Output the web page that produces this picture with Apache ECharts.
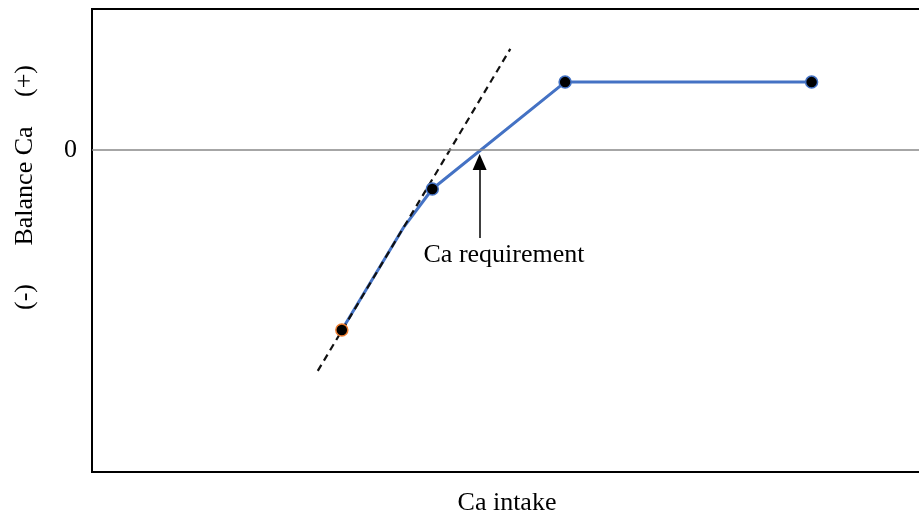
<!DOCTYPE html>
<html>
<head>
<meta charset="utf-8">
<script src="https://cdn.jsdelivr.net/npm/echarts@6/dist/echarts.min.js"></script>
<style>html,body{margin:0;padding:0;background:#fff;}#c{width:919px;height:515px;}</style>
</head>
<body>
<div id="c"></div>
<script>
// Ca intake (x) vs Ca balance (y), arbitrary units
var balanceX = [30.1, 37.5, 41.0, 57.0, 86.7];
var balanceY = [-55.9, -24.2, -12.1, 21.1, 21.1];
var tangentX = [27.2, 50.4];
var tangentY = [-68.6, 31.4];
var arrowX = 46.7;
var arrowY = [-27.3, -3.7];
var xLabel = 'Ca intake';
var yLabels = ['(-)', 'Balance Ca', '(+)'];
var annotation = 'Ca requirement';

var font = 'Liberation Serif, Times New Roman, serif';
var chart = echarts.init(document.getElementById('c'));
var markerData = [];
balanceX.forEach(function (x, i) {
  if (i === 1) return;
  var d = { value: [x, balanceY[i]] };
  if (i === 0) d.itemStyle = { borderColor: '#ED7D31' };
  markerData.push(d);
});
chart.setOption({
  animation: false,
  grid: { left: 92, top: 9, width: 830, height: 463, outerBoundsMode: 'none', containLabel: false, show: true, borderColor: '#000', borderWidth: 2, backgroundColor: 'transparent' },
  xAxis: {
    type: 'value', min: 0, max: 100,
    axisLine: { show: false }, axisTick: { show: false }, axisLabel: { show: false }, splitLine: { show: false },
    name: xLabel, nameLocation: 'middle', nameGap: 18,
    nameTextStyle: { fontFamily: font, fontSize: 26, color: '#000' }
  },
  yAxis: {
    type: 'value', min: -100, max: 43.8, interval: 50,
    axisLine: { show: false }, axisTick: { show: false }, splitLine: { show: false },
    axisLabel: {
      margin: 15, fontFamily: font, fontSize: 26, color: '#000',
      formatter: function (v) { return v === 0 ? '0' : ''; }
    }
  },
  series: [
    {
      type: 'line', data: balanceX.map(function (x, i) { return [x, balanceY[i]]; }),
      symbol: 'none',
      lineStyle: { color: '#4472C4', width: 3 },
      z: 2,
      markLine: {
        silent: true, symbol: ['none', 'triangle'], symbolSize: [14, 16], label: { show: false },
        lineStyle: { color: '#000', width: 1.5, type: 'solid' },
        itemStyle: { color: '#000' },
        data: [[{ coord: [arrowX, arrowY[0]] }, { coord: [arrowX, arrowY[1]] }]]
      }
    },
    {
      type: 'line', data: tangentX.map(function (x, i) { return [x, tangentY[i]]; }),
      symbol: 'none', lineStyle: { color: '#111', width: 2.2, type: [7, 5] }, z: 3,
      markLine: {
        silent: true, symbol: ['none', 'none'], label: { show: false },
        lineStyle: { color: '#888', width: 1.5, type: 'solid' },
        data: [{ yAxis: 0 }]
      }
    },
    {
      type: 'scatter', data: markerData, symbol: 'circle', symbolSize: 12, z: 4,
      itemStyle: { color: '#000', borderColor: '#4472C4', borderWidth: 1.5, opacity: 1 }
    }
  ],
  graphic: [
    { type: 'text', x: 504, y: 255, style: { text: annotation, font: '26px ' + font, fill: '#000', textAlign: 'center', textVerticalAlign: 'middle' } },
    { type: 'text', x: 25, y: 297, rotation: Math.PI / 2, style: { text: yLabels[0], font: '26px ' + font, fill: '#000', textAlign: 'center', textVerticalAlign: 'middle' } },
    { type: 'text', x: 25, y: 186, rotation: Math.PI / 2, style: { text: yLabels[1], font: '26px ' + font, fill: '#000', textAlign: 'center', textVerticalAlign: 'middle' } },
    { type: 'text', x: 25, y: 81, rotation: Math.PI / 2, style: { text: yLabels[2], font: '26px ' + font, fill: '#000', textAlign: 'center', textVerticalAlign: 'middle' } }
  ]
});
</script>
</body>
</html>
